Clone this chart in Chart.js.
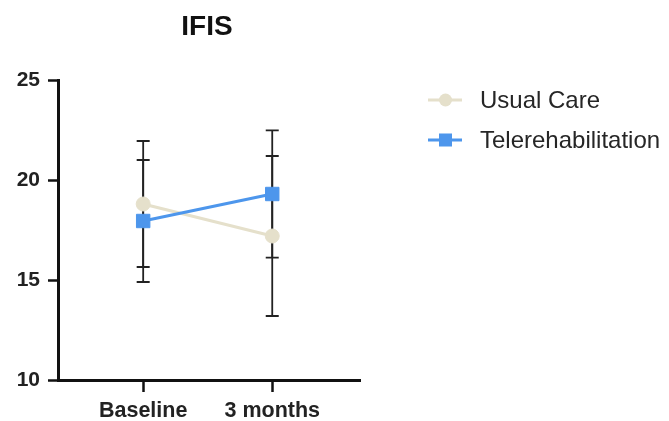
<!DOCTYPE html>
<html>
<head>
<meta charset="utf-8">
<script src="https://cdn.jsdelivr.net/npm/chart.js@4"></script>
<style>
  html, body { margin: 0; padding: 0; background: #fff; }
  #wrap { width: 669px; height: 421px; }
</style>
</head>
<body>
<div id="wrap"><canvas id="myChart" width="669" height="421"></canvas></div>
<script>
// values
const title = "IFIS";
const categories = ["Baseline", "3 months"];
const seriesNames = ["Usual Care", "Telerehabilitation"];
const usualMean = [18.8, 17.2];
const usualSd = [3.15, 4.0];
const teleMean = [17.95, 19.3];
const teleSd = [3.05, 3.18];
const yTicks = [10, 15, 20, 25];

const usualColor = "#e5e0cb";
const teleColor = "#4d96ec";
const font = "'Liberation Sans', Arial, sans-serif";

const toPoints = (arr) => arr.map((v, i) => ({ x: i, y: v }));

// error bars drawn behind the markers
const errorBars = {
    id: "errorBars",
    beforeDatasetsDraw(chart) {
        const ctx = chart.ctx;
        const xs = chart.scales.x;
        const ys = chart.scales.y;
        const sets = [[usualMean, usualSd], [teleMean, teleSd]];
        ctx.save();
        ctx.strokeStyle = "#222";
        ctx.lineWidth = 1.8;
        sets.forEach(([m, sd]) => {
            m.forEach((v, i) => {
                const x = xs.getPixelForValue(i);
                const top = ys.getPixelForValue(v + sd[i]);
                const bot = ys.getPixelForValue(v - sd[i]);
                ctx.beginPath();
                ctx.moveTo(x, top);
                ctx.lineTo(x, bot);
                ctx.moveTo(x - 6.5, top);
                ctx.lineTo(x + 6.5, top);
                ctx.moveTo(x - 6.5, bot);
                ctx.lineTo(x + 6.5, bot);
                ctx.stroke();
            });
        });
        ctx.restore();
    },
};

// title over the plot area and legend on the right
const decor = {
    id: "decor",
    afterDraw(chart) {
        const ctx = chart.ctx;
        const area = chart.chartArea;
        ctx.save();
        ctx.fillStyle = "#111";
        ctx.font = "bold 28px " + font;
        ctx.textAlign = "center";
        ctx.textBaseline = "middle";
        ctx.fillText(title, (area.left + area.right) / 2 - 2, 27);

        const items = [
            { name: seriesNames[0], color: usualColor, style: "circle", y: 100 },
            { name: seriesNames[1], color: teleColor, style: "rect", y: 140 },
        ];
        items.forEach((it) => {
            ctx.strokeStyle = it.color;
            ctx.lineWidth = 3;
            ctx.beginPath();
            ctx.moveTo(428, it.y);
            ctx.lineTo(462, it.y);
            ctx.stroke();
            ctx.fillStyle = it.color;
            if (it.style === "circle") {
                ctx.beginPath();
                ctx.arc(445.5, it.y, 6.5, 0, Math.PI * 2);
                ctx.fill();
            } else {
                ctx.fillRect(439, it.y - 6.5, 13, 13);
            }
            ctx.fillStyle = "#262626";
            ctx.font = "24px " + font;
            ctx.textAlign = "left";
            ctx.fillText(it.name, 480, it.y + 1);
        });
        ctx.restore();
    },
};

const config = {
    type: "line",
    data: {
        datasets: [
            {
                label: seriesNames[0],
                data: toPoints(usualMean),
                borderColor: usualColor,
                backgroundColor: usualColor,
                borderWidth: 3,
                pointStyle: "circle",
                pointRadius: 7,
                pointBorderWidth: 1,
                order: 1,
            },
            {
                label: seriesNames[1],
                data: toPoints(teleMean),
                borderColor: teleColor,
                backgroundColor: teleColor,
                borderWidth: 3,
                pointStyle: "rect",
                pointRadius: 9.5,
                pointBorderWidth: 1,
                order: 0,
            },
        ],
    },
    options: {
        responsive: false,
        animation: false,
        layout: { padding: { top: 80, right: 309, left: 0, bottom: 0 } },
        plugins: {
            legend: { display: false },
            title: { display: false },
            tooltip: { enabled: false },
        },
        scales: {
            x: {
                type: "linear",
                min: -0.66,
                max: 1.68,
                afterBuildTicks: (scale) => {
                    scale.ticks = categories.map((c, i) => ({ value: i }));
                },
                afterFit: (scale) => { scale.height = 41; },
                ticks: {
                    callback: (v) => categories[v],
                    color: "#222",
                    font: { family: font, size: 21.5, weight: "bold" },
                    padding: 6,
                    maxRotation: 0,
                },
                grid: {
                    drawOnChartArea: false,
                    tickLength: 12,
                    tickColor: "#111",
                    tickWidth: 2.5,
                },
                border: { display: true, color: "#111", width: 3 },
            },
            y: {
                min: 10,
                max: 25,
                afterBuildTicks: (scale) => {
                    scale.ticks = yTicks.map((v) => ({ value: v }));
                },
                afterFit: (scale) => { scale.width = 58; },
                ticks: {
                    color: "#222",
                    font: { family: font, size: 21, weight: "bold" },
                    padding: 8,
                },
                grid: {
                    drawOnChartArea: false,
                    tickLength: 10,
                    tickColor: "#111",
                    tickWidth: 2.5,
                },
                border: { display: true, color: "#111", width: 3 },
            },
        },
    },
    plugins: [errorBars, decor],
};

new Chart(document.getElementById("myChart"), config);
</script>
</body>
</html>
